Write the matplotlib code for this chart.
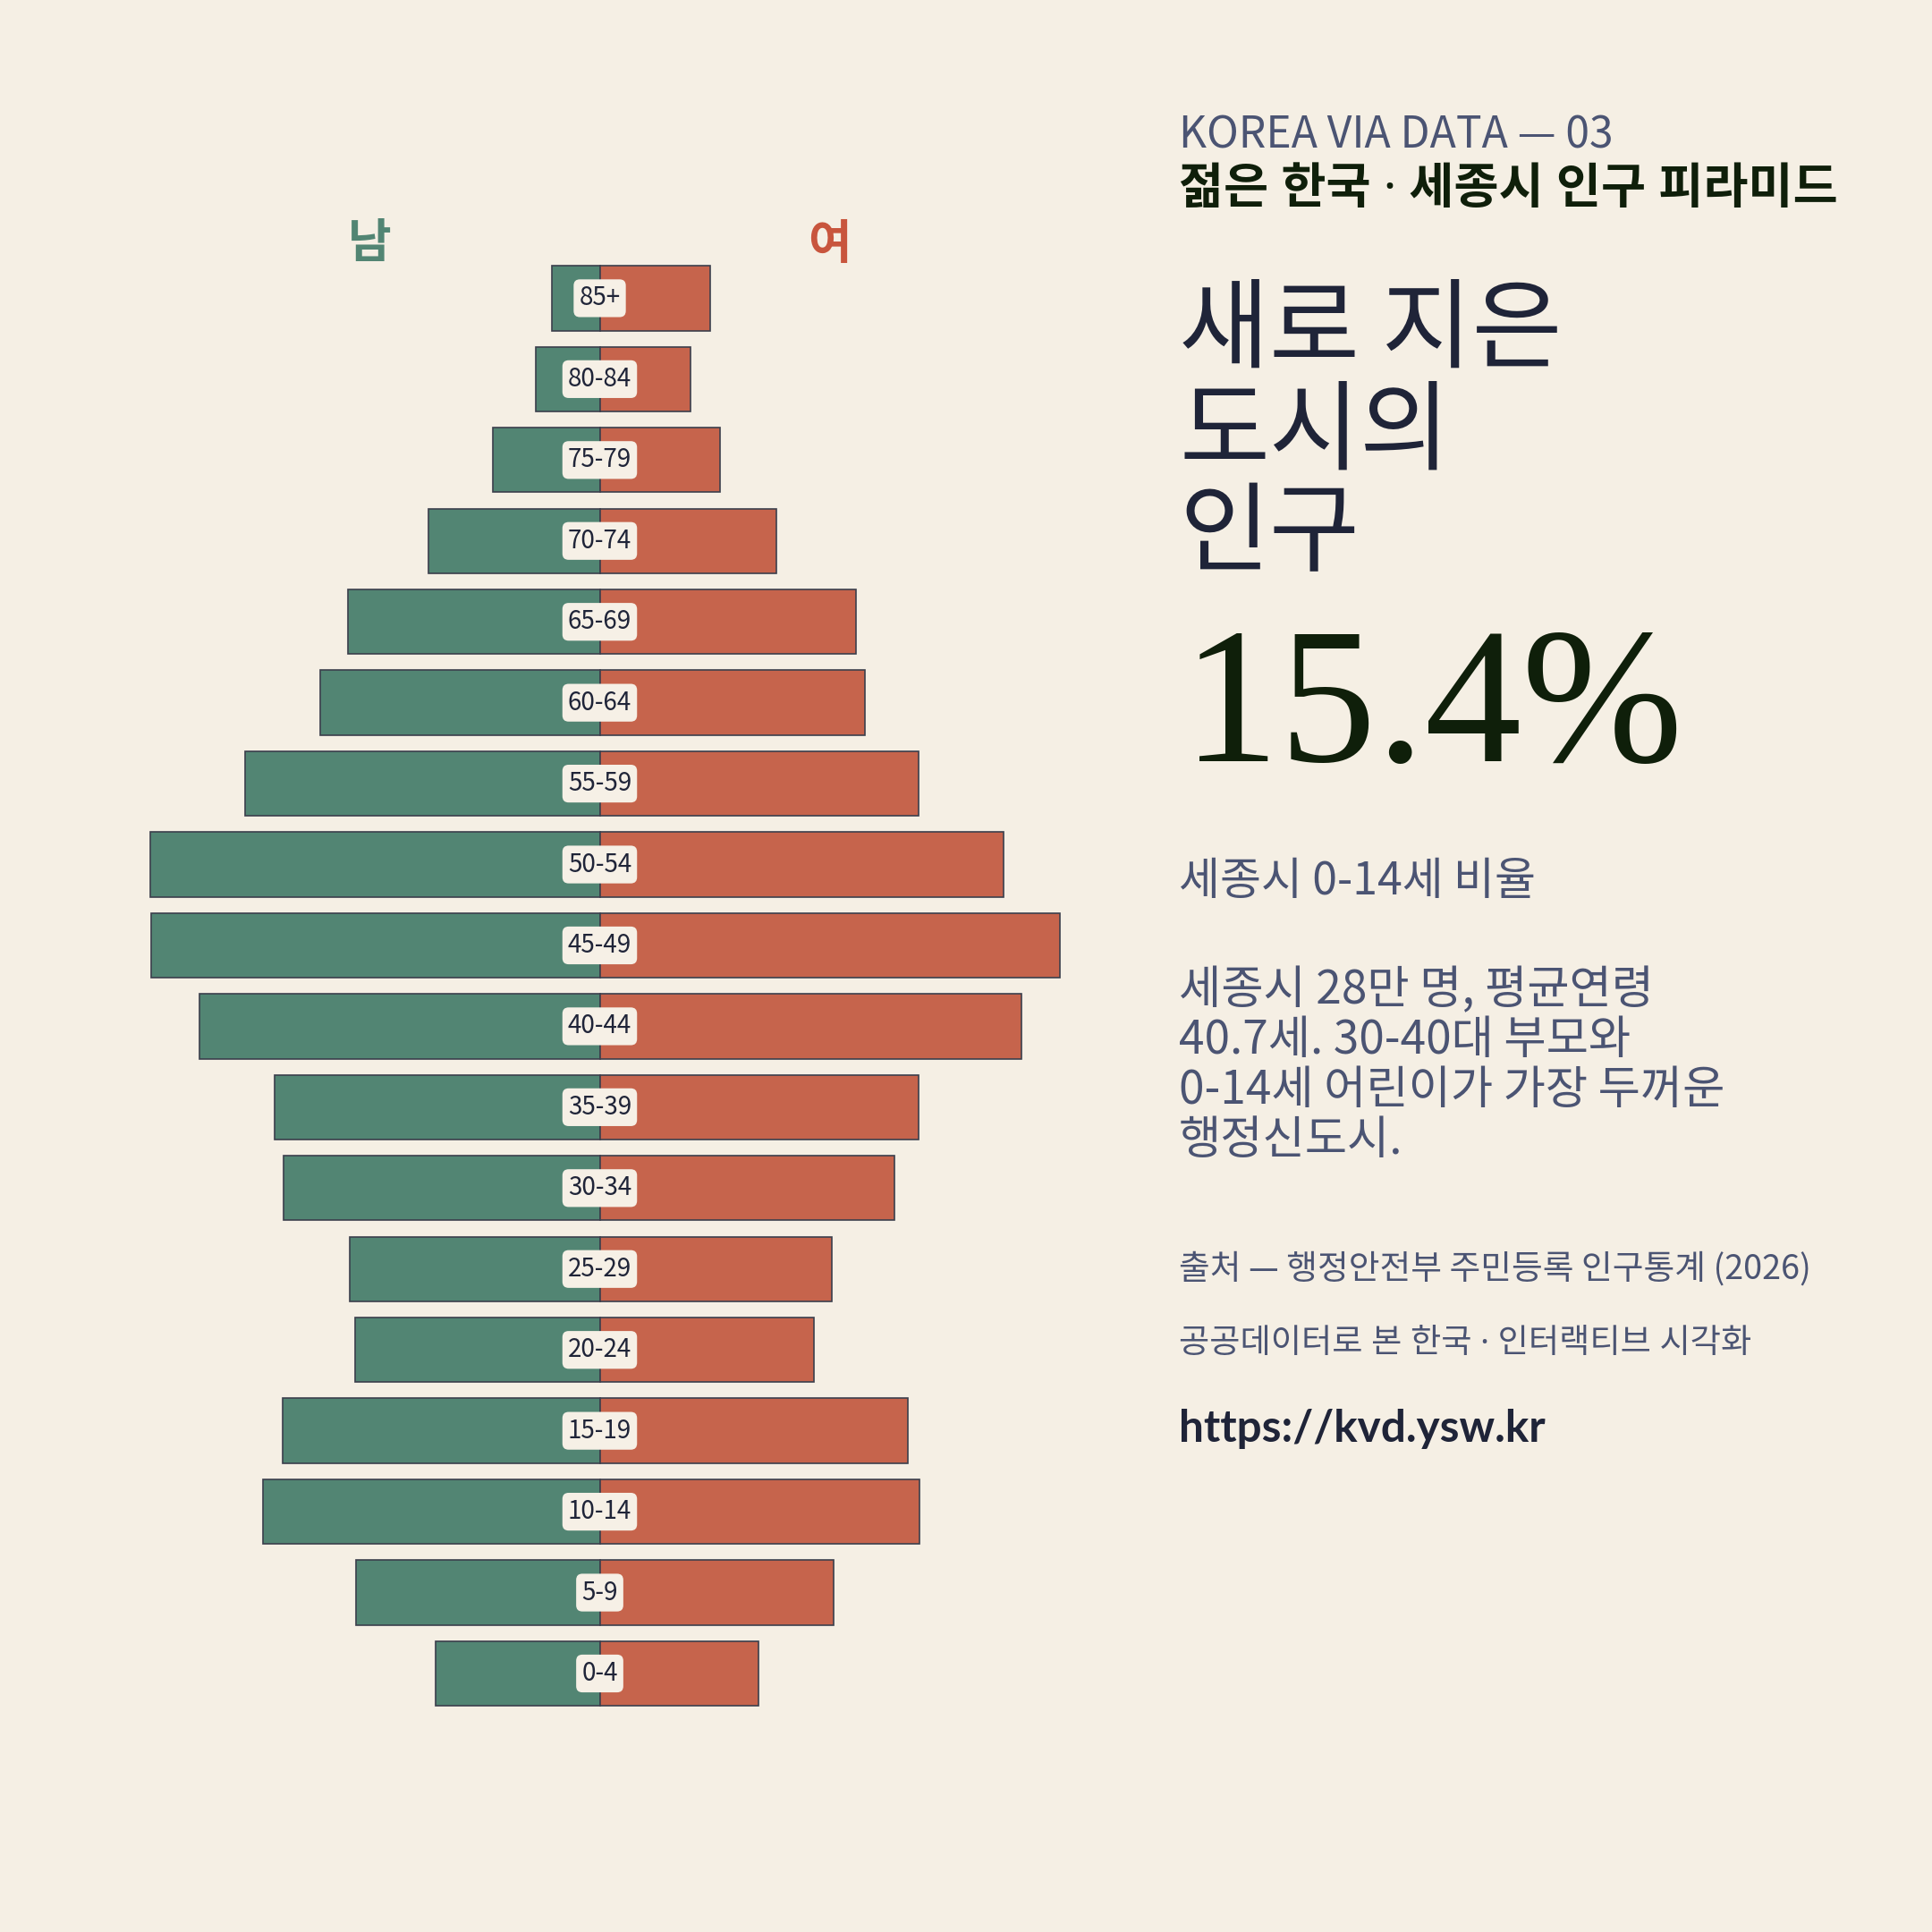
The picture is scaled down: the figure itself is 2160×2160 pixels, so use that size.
import matplotlib
matplotlib.use("Agg")
import matplotlib.pyplot as plt
import numpy as np

plt.rcParams['font.family'] = ['Noto Sans CJK KR', 'DejaVu Sans']

# ---- data (people, Sejong city) ----
age_groups = ["85+", "80-84", "75-79", "70-74", "65-69", "60-64", "55-59", "50-54", "45-49",
              "40-44", "35-39", "30-34", "25-29", "20-24", "15-19", "10-14", "5-9", "0-4"]
male = [1418, 1894, 3161, 5063, 7440, 8258, 10477, 13276, 13250,
        11824, 9605, 9341, 7387, 7228, 9368, 9949, 7202, 4852]
female = [3267, 2689, 3555, 5224, 7572, 7838, 9420, 11929, 13588,
          12455, 9420, 8705, 6856, 6330, 9106, 9447, 6912, 4696]

BG = "#f5efe4"
GREEN = "#528573"
RED = "#c6644c"
EDGE = "#3b3f4c"
NAVY = "#1f2438"
SLATE = "#4b5473"
DARKGREEN = "#0f1f0a"
DOTFAM = ['Noto Sans', 'Noto Sans CJK KR', 'DejaVu Sans']

W = H = 2160
fig = plt.figure(figsize=(10.8, 10.8), dpi=200, facecolor=BG)

def fx(px):
    return px / W

def fy(py):
    return 1 - py / H

# axes: center x=670.5px, half-width 551px ; rows centred 333.4 .. 1871 px
ax_left, ax_right = 119.5, 1221.5
ax_top, ax_bot = 288.2, 1916.2
ax = fig.add_axes([fx(ax_left), fy(ax_bot), (ax_right - ax_left) / W, (ax_bot - ax_top) / H])
ax.set_facecolor(BG)
lim = 551 * 26.41
ax.set_xlim(-lim, lim)
ax.set_ylim(len(age_groups) - 0.5, -0.5)
ax.axis("off")

y = np.arange(len(age_groups))
ax.barh(y, -np.array(male), height=0.8, color=GREEN, edgecolor=EDGE, linewidth=0.6)
ax.barh(y, female, height=0.8, color=RED, edgecolor=EDGE, linewidth=0.6)

for i, lab in enumerate(age_groups):
    ax.text(0, i, lab, ha="center", va="center", fontsize=10, color=NAVY,
            bbox=dict(boxstyle="round,pad=0.22,rounding_size=0.25", fc="#f6f0e6", ec="none"))

fig.text(fx(413), fy(273), "남", color=GREEN, fontsize=19, fontweight="bold", ha="center", va="center")
fig.text(fx(927), fy(273), "여", color="#c8553d", fontsize=19, fontweight="bold", ha="center", va="center")

X0 = fx(1318)
fig.text(X0, fy(152), "KOREA VIA DATA — 03", color=SLATE, fontsize=17.3, ha="left", va="center")
fig.text(X0, fy(212), "젊은 한국 · 세종시 인구 피라미드", color=DARKGREEN, fontsize=19.6,
         fontweight="bold", ha="left", va="center", family=DOTFAM)
for k, line in enumerate(["새로 지은", "도시의", "인구"]):
    fig.text(X0, fy(371 + k * 114), line, color=NAVY, fontsize=39.5, ha="left", va="center")

fig.text(fx(1322), fy(851), "15.4%", color=DARKGREEN, fontsize=78, family="Liberation Serif",
         ha="left", va="baseline")

fig.text(X0, fy(986), "세종시 0-14세 비율", color=SLATE, fontsize=18, ha="left", va="center")
para = ["세종시 28만 명, 평균연령", "40.7세. 30-40대 부모와", "0-14세 어린이가 가장 두꺼운", "행정신도시."]
for k, line in enumerate(para):
    fig.text(X0, fy(1107 + k * 56), line, color=SLATE, fontsize=18.5, ha="left", va="center")

fig.text(X0, fy(1419), "출처 — 행정안전부 주민등록 인구통계 (2026)", color=SLATE, fontsize=13.6,
         ha="left", va="center")
fig.text(X0, fy(1503), "공공데이터로 본 한국 · 인터랙티브 시각화", color=SLATE, fontsize=13.4,
         ha="left", va="center", family=DOTFAM)
fig.text(X0, fy(1598), "https://kvd.ysw.kr", color=NAVY, fontsize=17.8, fontweight="bold",
         ha="left", va="center", family=["Lato", "DejaVu Sans"])

fig.savefig("out.png", dpi=200, facecolor=BG)
